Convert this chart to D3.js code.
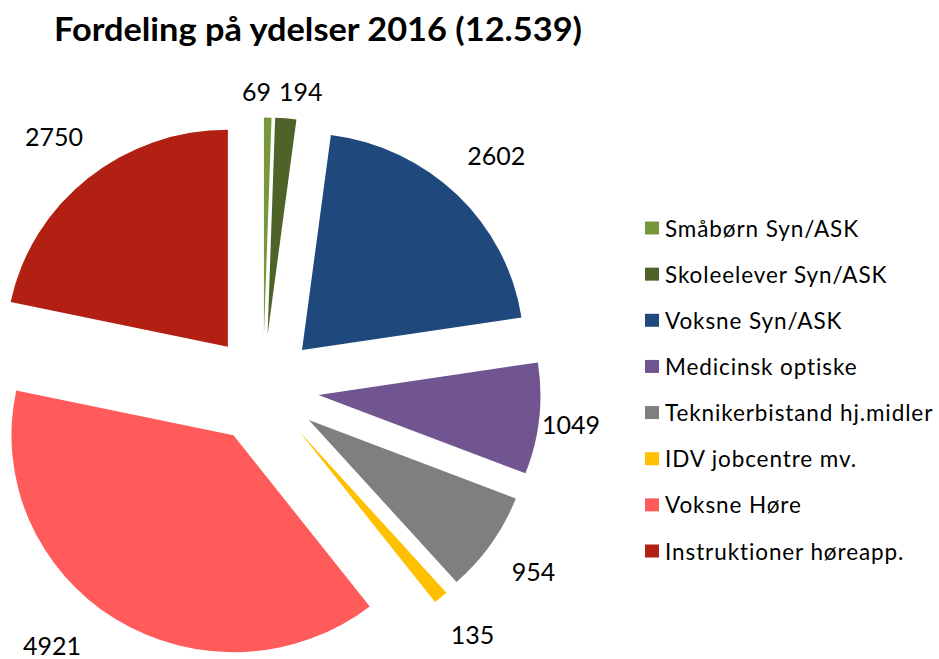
<!DOCTYPE html>
<html>
<head>
<meta charset="utf-8">
<script src="https://cdn.jsdelivr.net/npm/d3@7"></script>
<style>
  html, body { margin: 0; padding: 0; background: #fff; }
  svg { display: block; }
  text { font-family: Lato, "Open Sans", sans-serif; fill: #000; }
</style>
</head>
<body>
<svg id="chart" width="939" height="659"></svg>
<script>
const titleText = "Fordeling på ydelser 2016 (12.539)";
const categories = ["Småbørn Syn/ASK", "Skoleelever Syn/ASK", "Voksne Syn/ASK", "Medicinsk optiske",
  "Teknikerbistand hj.midler", "IDV jobcentre mv.", "Voksne Høre", "Instruktioner høreapp."];
const values = [69, 194, 2602, 1049, 954, 135, 4921, 2750];
const colors = ["#77973D", "#4F6228", "#1F497D", "#705590", "#7F7F7F", "#FFC000", "#FF5B5B", "#B21F13"];

const W = 939, H = 659;
const svg = d3.select("#chart");

// Title
svg.append("text")
  .attr("x", 318).attr("y", 41)
  .attr("text-anchor", "middle")
  .attr("font-size", 33).attr("font-weight", 700)
  .attr("textLength", 528).attr("lengthAdjust", "spacingAndGlyphs")
  .text(titleText);

// Pie geometry
const cx = 263, cy = 389, R = 217, sx = 1.023, explode = 54.5;
const data = categories.map((c, i) => ({ cat: c, value: values[i] }));
const pie = d3.pie().sort(null).value(d => d.value).startAngle(0).endAngle(2 * Math.PI);
const arcs = pie(data);
const arc = d3.arc().innerRadius(0).outerRadius(R);
const color = d3.scaleOrdinal().domain(categories).range(colors);

const g = svg.append("g").attr("transform", `translate(${cx},${cy}) scale(${sx},1)`);
g.selectAll("path").data(arcs).join("path")
  .attr("d", arc)
  .attr("fill", d => color(d.data.cat))
  .attr("transform", d => {
    const m = (d.startAngle + d.endAngle) / 2;
    return `translate(${explode * Math.sin(m)},${-explode * Math.cos(m)})`;
  });

// Data labels (outside end, kept inside the plot area)
const labelPad = 26, plotRight = 600, yMin = 92, yMax = 646;
const lg = svg.append("g").attr("font-size", 25);
const labels = arcs.map(d => {
  const m = (d.startAngle + d.endAngle) / 2;
  return { text: String(d.data.value), m, ux: Math.sin(m), uy: -Math.cos(m) };
});
const labelNodes = lg.selectAll("text").data(labels).join("text")
  .attr("text-anchor", "middle")
  .text(d => d.text);
labelNodes.each(function (d) {
  d.w = this.getComputedTextLength(); d.h = 22;
  d.ax = cx + sx * explode * d.ux; d.ay = cy + explode * d.uy;
  const support = (d.w / 2) * Math.abs(d.ux) + (d.h / 2) * Math.abs(d.uy);
  d.dist = R + labelPad + support;
  d.x = d.ax + sx * d.dist * d.ux;
  d.y = d.ay + d.dist * d.uy;
  if (d.y > yMax) {
    const k = (yMax - d.ay) / d.dist;
    const s = Math.sqrt(Math.max(0, 1 - k * k));
    d.y = yMax; d.x = d.ax + sx * (d.dist + 20) * s * Math.sign(d.ux);
  }
  if (d.y < yMin) d.y = yMin;
  if (d.x + d.w / 2 > plotRight) d.x = plotRight - d.w / 2;
});
// resolve overlaps
for (let it = 0; it < 20; it++) {
  for (let i = 0; i < labels.length; i++) for (let j = i + 1; j < labels.length; j++) {
    const a = labels[i], b = labels[j];
    const ox = (a.w + b.w) / 2 + 8 - Math.abs(a.x - b.x);
    const oy = (a.h + b.h) / 2 - Math.abs(a.y - b.y);
    if (ox > 0 && oy > 0) {
      const s = a.x < b.x ? -1 : 1;
      a.x += s * ox / 2; b.x -= s * ox / 2;
    }
  }
}
labelNodes.attr("x", d => d.x).attr("y", d => d.y + 9);

// Legend
const legY = d3.scalePoint().domain(categories).range([228.5, 551.5]);
const leg = svg.append("g").attr("font-size", 22.5).attr("letter-spacing", 0.9);
const rows = leg.selectAll("g").data(categories).join("g")
  .attr("transform", c => `translate(645,${legY(c)})`);
rows.append("rect").attr("x", 0).attr("y", -7).attr("width", 14).attr("height", 13)
  .attr("fill", c => color(c));
rows.append("text").attr("x", 20).attr("y", 8).text(c => c);
</script>
</body>
</html>
